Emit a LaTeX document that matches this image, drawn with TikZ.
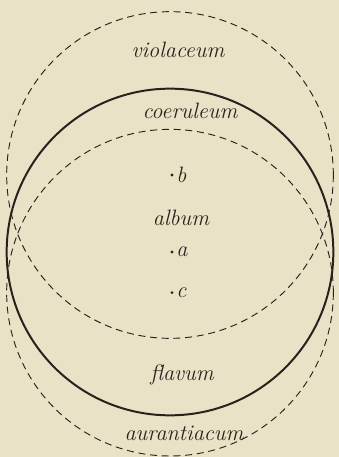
\documentclass[tikz,border=0pt]{standalone}
\usepackage{xcolor}
\usepackage{tikz}
\definecolor{papel}{RGB}{234,226,198}
\definecolor{tinta}{RGB}{40,34,30}
\tikzset{
    circulo/.style={draw=tinta, line width=1.7pt},
    tracejado/.style={draw=tinta, line width=0.8pt, dash pattern=on 6pt off 4pt},
    rotulo/.style={font=\fontsize{19}{22}\selectfont\itshape, text=tinta, inner sep=0pt},
    ponto/.style={circle, fill=tinta, inner sep=0pt, minimum size=2.6pt}
}

\begin{document}
\begin{tikzpicture}

        \fill[papel] (-5.1,-6.15) rectangle (5.07,7.56);
        \useasboundingbox (-5.1,-6.15) rectangle (5.07,7.56);

        \node[ponto, label={[rotulo, label distance=2pt]right:b}] (b) at (0.06,2.31) {};
        \node[ponto, label={[rotulo, label distance=2pt]right:a}] (a) at (0.06,0) {};
        \node[ponto, label={[rotulo, label distance=2pt]right:c}] (c) at (0.06,-1.22) {};

        \draw[circulo] (0,0) circle (4.9);
        \draw[tracejado] (0,2.31) circle (4.9);
        \draw[tracejado] (0,-1.22) circle (4.9);

        \node[rotulo] (violaceum) at (0.24,6.06) {violaceum};
        \node[rotulo] (coeruleum) at (0.6,4.23) {coeruleum};
        \node[rotulo] (album) at (0.33,1.02) {album};
        \node[rotulo] (flavum) at (0.36,-3.69) {flavum};
        \node[rotulo] (aurantiacum) at (0.42,-5.43) {aurantiacum};

    \end{tikzpicture}
\end{document}
